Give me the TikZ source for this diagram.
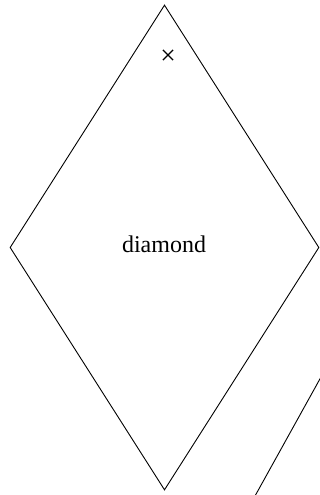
\documentclass[tikz,border=0pt]{standalone}
\usepackage{fontspec}
\setmainfont{Liberation Serif}
\usetikzlibrary{shapes.geometric, shapes.misc, positioning}

\begin{document}
\begin{tikzpicture}[x=1pt, y=-1pt]
      \useasboundingbox (0,0) rectangle (320,495);

      % Main shape
      \node[diamond, draw, line width=0.9pt, inner sep=0pt, minimum width=309pt, minimum height=485pt] (dia) at (164.5,247.5) {};
      \node[font=\fontsize{24}{26}\selectfont, inner sep=0pt] (diaText) at (164,244) {diamond};

      % Marker
      \node[cross out, draw, line width=1.2pt, inner sep=0pt, minimum size=9pt] (mark) at (168,55) {};

      % Edge of next shape
      \coordinate (nextA) at (255,496);
      \coordinate (nextB) at (321,377);
      \draw[line width=0.9pt] (nextA) -- (nextB);
    \end{tikzpicture}
\end{document}
